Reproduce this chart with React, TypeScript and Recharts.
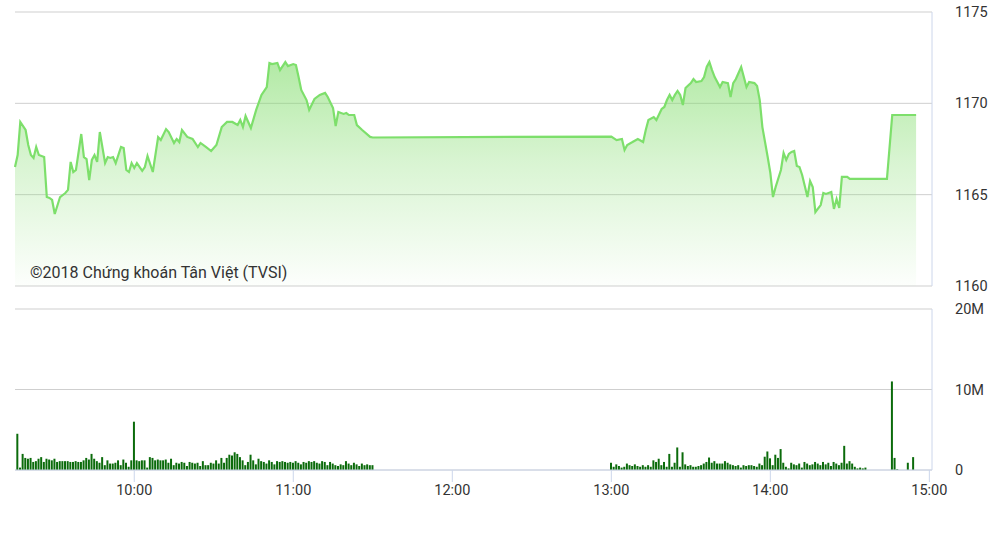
import { AreaChart, Area, BarChart, Bar, XAxis, YAxis, CartesianGrid } from "recharts";

// price path (time of day -> index value)
const priceTimes = [
  "09:15", "09:16", "09:17", "09:19", "09:20", "09:21", "09:22", "09:23", "09:24", "09:26",
  "09:27", "09:28", "09:29", "09:30", "09:32", "09:34", "09:35", "09:36", "09:37", "09:38",
  "09:40", "09:41", "09:42", "09:43", "09:44", "09:45", "09:46", "09:47", "09:49", "09:50",
  "09:51", "09:52", "09:53", "09:55", "09:56", "09:57", "09:58", "09:59", "10:00", "10:01",
  "10:03", "10:04", "10:05", "10:07", "10:09", "10:10", "10:12", "10:13", "10:15", "10:16",
  "10:17", "10:18", "10:20", "10:22", "10:24", "10:25", "10:27", "10:29", "10:31", "10:33",
  "10:35", "10:37", "10:39", "10:40", "10:41", "10:42", "10:44", "10:46", "10:48", "10:50",
  "10:51", "10:52", "10:54", "10:55", "10:57", "10:58", "11:00", "11:01", "11:02", "11:03",
  "11:05", "11:06", "11:08", "11:10", "11:12", "11:13", "11:15", "11:16", "11:17", "11:19",
  "11:20", "11:21", "11:23", "11:24", "11:26", "11:29", "11:30",
  "13:00", "13:02", "13:04", "13:05", "13:06", "13:08", "13:10", "13:12", "13:13", "13:14",
  "13:16", "13:17", "13:19", "13:20", "13:21", "13:22", "13:23", "13:24", "13:25", "13:26",
  "13:27", "13:28", "13:30", "13:31", "13:32", "13:34", "13:35", "13:36", "13:37", "13:38",
  "13:39", "13:40", "13:41", "13:42", "13:44", "13:45", "13:46", "13:47", "13:48", "13:49",
  "13:50", "13:51", "13:52", "13:54", "13:55", "13:56", "13:57", "13:59", "14:00", "14:01",
  "14:02", "14:04", "14:05", "14:06", "14:07", "14:08", "14:09", "14:10", "14:11", "14:12",
  "14:14", "14:15", "14:16", "14:17", "14:19", "14:20", "14:21", "14:23", "14:24", "14:25",
  "14:26", "14:27", "14:29", "14:30", "14:44", "14:46", "14:55",
];
const priceValues = [
  1166.51, 1167.17, 1168.98, 1168.54, 1167.72, 1167.17, 1167.01, 1167.61, 1167.17, 1167.06,
  1164.87, 1164.82, 1164.71, 1163.94, 1164.87, 1165.09, 1165.26, 1166.79, 1166.24, 1166.35,
  1168.32, 1167.06, 1166.95, 1165.8, 1166.9, 1167.17, 1166.79, 1168.43, 1166.73, 1167.06,
  1167.01, 1167.06, 1166.73, 1167.61, 1167.55, 1166.35, 1166.24, 1166.73, 1166.46, 1166.73,
  1166.3, 1166.51, 1167.12, 1166.24, 1168.15, 1167.99, 1168.59, 1168.43, 1167.83, 1168.05,
  1167.88, 1168.54, 1168.16, 1168.05, 1167.61, 1167.83, 1167.61, 1167.39, 1167.72, 1168.7,
  1168.98, 1168.98, 1168.81, 1169.09, 1168.7, 1169.31, 1168.65, 1169.64, 1170.46, 1170.89,
  1172.21, 1172.15, 1172.21, 1171.82, 1172.26, 1172.04, 1172.15, 1172.1, 1171.44, 1170.73,
  1170.18, 1169.64, 1170.24, 1170.46, 1170.57, 1170.35, 1169.74, 1168.76, 1169.53, 1169.42,
  1169.47, 1169.36, 1169.36, 1168.81, 1168.54, 1168.16, 1168.13,
  1168.18, 1167.99, 1168.05, 1167.45, 1167.72, 1167.88, 1168.05, 1167.88, 1168.54, 1169.09,
  1169.25, 1169.09, 1169.69, 1169.8, 1170.18, 1170.46, 1170.18, 1170.46, 1170.68, 1170.46,
  1169.91, 1170.84, 1171.11, 1171.33, 1171.17, 1171.22, 1171.44, 1171.99, 1172.26, 1171.82,
  1171.44, 1171.17, 1170.89, 1171.17, 1171.11, 1170.35, 1171.11, 1171.33, 1171.66, 1171.99,
  1171.44, 1170.89, 1171.17, 1171.11, 1170.95, 1170.18, 1168.7, 1167.06, 1166.19, 1164.87,
  1165.42, 1166.35, 1167.28, 1166.9, 1167.23, 1167.34, 1167.39, 1166.57, 1166.51, 1166.08,
  1164.87, 1165.75, 1165.42, 1164.05, 1164.43, 1165.09, 1165.04, 1165.15, 1164.22, 1164.76,
  1164.27, 1165.97, 1165.97, 1165.86, 1165.86, 1169.36, 1169.36,
];

// volume in millions, one bar per minute
const morningVolumeStart = "09:16";
const morningVolume = [
  4.5, 0.3, 2.0, 1.5, 1.4, 1.5, 1.0, 1.1, 1.4, 1.6, 1.0, 1.4, 1.3, 1.2, 1.4, 1.0, 1.1, 1.1, 1.1, 1.1, 1.0, 1.0,
  1.1, 1.0, 1.0, 1.2, 1.5, 1.3, 2.0, 1.4, 1.1, 0.9, 1.6, 0.6, 1.2, 0.8, 0.8, 0.9, 1.2, 0.6, 1.3, 0.9, 0.4, 1.2,
  6.0,
  1.2, 1.1, 1.2, 1.2, 0.3, 1.6, 1.5, 1.2, 1.3, 1.2,
  1.2, 1.3, 0.9, 1.4, 0.6, 0.9, 0.8, 1.0, 0.9, 0.5,
  1.0, 0.9, 0.8, 0.9, 0.5, 1.1, 0.6, 0.6, 0.9, 0.8,
  1.2, 0.8, 1.5, 0.9, 1.5, 1.9, 1.8, 2.2, 2.0, 1.6,
  1.2, 0.6, 1.0, 1.9, 1.2, 0.7, 1.4, 1.1, 1.0, 0.8,
  1.2, 1.0, 0.7, 1.1, 1.0, 1.1, 1.0, 0.9, 1.0, 0.9,
  1.1, 0.9, 0.7, 1.0, 0.9, 1.1, 1.0, 1.1, 0.9, 0.8,
  1.1, 1.0, 0.6, 1.0, 0.8, 0.6, 0.5, 0.7, 0.6, 1.1,
  0.8, 0.6, 0.9, 0.7, 0.5, 0.8, 0.6, 0.7, 0.6, 0.6,
];
const afternoonVolumeStart = "13:00";
const afternoonVolume = [
  0.9, 0.4, 0.7, 0.5, 0.3, 0.4, 0.8, 0.6, 0.5, 0.7,
  0.5, 0.4, 0.6, 0.4, 0.6, 0.4, 1.2, 1.0, 1.4, 0.6,
  1.0, 0.4, 2.0, 0.4, 0.9, 2.8, 0.4, 2.2, 0.7, 0.5,
  0.6, 0.4, 0.4, 0.5, 0.6, 0.8, 1.0, 1.55, 0.9, 1.1,
  0.8, 0.8, 0.8, 1.1, 0.9, 0.7, 0.6, 0.5, 0.6, 0.3,
  0.6, 0.5, 0.6, 0.6, 0.5, 0.4, 0.8, 0.6, 1.65, 2.3,
  1.45, 0.6, 1.9, 1.5, 2.6, 0.9, 0.4, 0.2, 0.9, 0.7,
  0.6, 0.8, 0.3, 1.0, 0.8, 0.6, 0.7, 1.0, 0.8, 0.6,
  1.0, 0.7, 0.9, 0.5, 1.0, 0.8, 0.6, 0.9, 3.0, 0.8,
  1.1, 0.8, 0.4, 0.2, 0.3, 0.2, 0.3,
];
const closingVolumeTimes = ["14:46", "14:47", "14:48", "14:52", "14:54"];
const closingVolume = [11.0, 1.5, 0.1, 0.9, 1.6];

const hourTicks = ["10:00", "11:00", "12:00", "13:00", "14:00", "15:00"];
const priceTicks = [1160, 1165, 1170, 1175];
const volumeTicks = [0, 10, 20];
const watermark = "©2018 Chứng khoán Tân Việt (TVSI)";

const toMin = (s: string) => {
  const [h, m] = s.split(":").map(Number);
  return h * 60 + m;
};
const fmtMin = (v: number) => `${Math.floor(v / 60)}:${String(v % 60).padStart(2, "0")}`;

const priceData = priceTimes.map((t, i) => ({ t: toMin(t), price: priceValues[i] }));
const volumeData = [
  ...morningVolume.map((v, i) => ({ t: toMin(morningVolumeStart) + i, vol: v })),
  ...afternoonVolume.map((v, i) => ({ t: toMin(afternoonVolumeStart) + i, vol: v })),
  ...closingVolume.map((v, i) => ({ t: toMin(closingVolumeTimes[i]), vol: v })),
];

const domainX: [number, number] = [toMin("09:15"), toMin("15:01")];
const xTicks = hourTicks.map(toMin);
const axisBlue = "#ccd6eb";
const gridGray = "#cfcfcf";
const tickStyle = { fontSize: 14.5, fill: "#333333" };

export default function App() {
  return (
    <div style={{ position: "absolute", left: 0, top: 0, width: 989, height: 556, background: "#fff", fontFamily: "Roboto, sans-serif" }}>
      <div style={{ position: "absolute", left: 0, top: 0 }}>
        <AreaChart width={989} height={296} data={priceData} margin={{ top: 12, right: 0, left: 15, bottom: 10 }}>
          <defs>
            <linearGradient id="priceFill" x1="0" y1="0" x2="0" y2="1">
              <stop offset="0%" stopColor="#80dc6a" stopOpacity={1} />
              <stop offset="45%" stopColor="#80dc6a" stopOpacity={0.5} />
              <stop offset="100%" stopColor="#80dc6a" stopOpacity={0.03} />
            </linearGradient>
          </defs>
          <CartesianGrid vertical={false} stroke={gridGray} />
          <XAxis dataKey="t" type="number" domain={domainX} ticks={xTicks} hide />
          <YAxis
            orientation="right"
            domain={[1160, 1175]}
            ticks={priceTicks}
            interval={0}
            width={57}
            axisLine={{ stroke: axisBlue }}
            tickLine={false}
            tickSize={0}
            tickMargin={23}
            tick={tickStyle}
          />
          <Area
            type="linear"
            dataKey="price"
            stroke="#7ddf6b"
            strokeWidth={2.2}
            fill="url(#priceFill)"
            isAnimationActive={false}
          />
        </AreaChart>
      </div>
      <div style={{ position: "absolute", left: 30, top: 263, fontSize: 16, color: "#333", whiteSpace: "nowrap" }}>
        {watermark}
      </div>
      <div style={{ position: "absolute", left: 0, top: 296 }}>
        <BarChart width={989} height={224} data={volumeData} margin={{ top: 13, right: 0, left: 15, bottom: 0 }}>
          <CartesianGrid vertical={false} stroke={gridGray} />
          <XAxis
            dataKey="t"
            type="number"
            domain={domainX}
            ticks={xTicks}
            interval={0}
            tickFormatter={fmtMin}
            height={50}
            axisLine={{ stroke: axisBlue }}
            tickLine={{ stroke: axisBlue }}
            tickSize={12}
            tickMargin={3}
            tick={tickStyle}
          />
          <YAxis
            orientation="right"
            domain={[0, 20]}
            ticks={volumeTicks}
            interval={0}
            tickFormatter={(v: number) => (v === 0 ? "0" : `${v}M`)}
            width={57}
            axisLine={{ stroke: axisBlue }}
            tickLine={false}
            tickSize={0}
            tickMargin={23}
            tick={tickStyle}
          />
          <Bar dataKey="vol" fill="#0b6b0b" barSize={2} isAnimationActive={false} />
        </BarChart>
      </div>
    </div>
  );
}
